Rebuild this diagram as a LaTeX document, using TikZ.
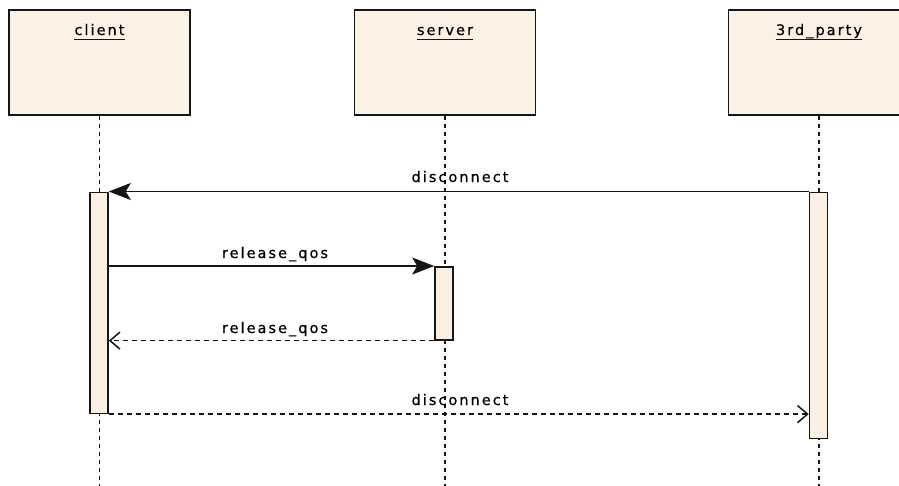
\documentclass[tikz,border=0pt]{standalone}
\usepackage{fontspec}
\newfontfamily\umlfont{DejaVu Sans}[LetterSpace=14,FakeBold=0.6]
\usetikzlibrary{arrows.meta}
\definecolor{boxfill}{HTML}{FCF1E5}
\definecolor{barfill}{HTML}{FBEFE3}
\definecolor{edge}{HTML}{151515}
\newcommand{\ul}[1]{\tikz[baseline=0pt]{\node[anchor=base,inner sep=0pt] (ulx) {#1};\draw[edge,line width=1.6pt] ([yshift=-4.5pt]ulx.base west) -- ([yshift=-4.5pt]ulx.base east);}}
\begin{document}
\begin{tikzpicture}[x=1pt,y=-1pt,
  font=\umlfont\fontsize{14.5}{17}\selectfont,
  headbox/.style={draw=edge, line width=1.8pt, fill=boxfill, minimum width=181pt, minimum height=105pt, inner sep=0pt, anchor=north},
  headlabel/.style={anchor=base, inner sep=0pt},
  actbar/.style={draw=edge, line width=1.6pt, fill=barfill, minimum width=18pt, inner sep=0pt, anchor=north},
  lifeline/.style={draw=edge, line width=1.5pt, dash pattern=on 4pt off 4pt},
  callmsg/.style={draw=edge, line width=1.5pt, -{Stealth[length=22pt,width=17pt,inset=5pt]}},
  replymsg/.style={draw=edge, line width=1.5pt, dash pattern=on 5pt off 4pt, -{Straight Barb[length=10pt,width=17pt]}},
  msglabel/.style={anchor=base, inner sep=0pt}]
\clip (0,0) rectangle (899,485);
\fill[white] (0,0) rectangle (899,485);

% participant heads
\node[headbox] (client) at (99.5,9) {};
\node[headbox] (server) at (445,9) {};
\node[headbox] (third) at (819,9) {};
\node[headlabel] (clientname) at ([yshift=-26pt]client.north) {\ul{client}};
\node[headlabel] (servername) at ([yshift=-26pt]server.north) {\ul{server}};
\node[headlabel] (thirdname) at ([yshift=-26pt]third.north) {\ul{3rd\_party}};

% lifelines
\coordinate (bottom) at (0,487);
\draw[lifeline] (client.south) -- (client.south |- bottom);
\draw[lifeline] (server.south) -- (server.south |- bottom);
\draw[lifeline] (third.south) -- (third.south |- bottom);

% activation bars
\node[actbar, minimum height=221pt] (clientact) at (99,191.5) {};
\node[actbar, minimum height=73pt] (serveract) at (444,266) {};
\node[actbar, minimum height=246pt] (thirdact) at (818.5,191.5) {};

% messages
\draw[callmsg] (thirdact.north west) -- (clientact.north east);
\node[msglabel] (m1) at (460,182) {disconnect};

\draw[callmsg] (clientact.east |- serveract.north) -- (serveract.north west);
\node[msglabel] (m2) at (275,258) {release\_qos};

\draw[replymsg] (serveract.south west) -- (clientact.east |- serveract.south);
\node[msglabel] (m3) at (275,333) {release\_qos};

\draw[replymsg] (clientact.south east) -- (thirdact.west |- clientact.south);
\node[msglabel] (m4) at (460,405) {disconnect};
\end{tikzpicture}
\end{document}
